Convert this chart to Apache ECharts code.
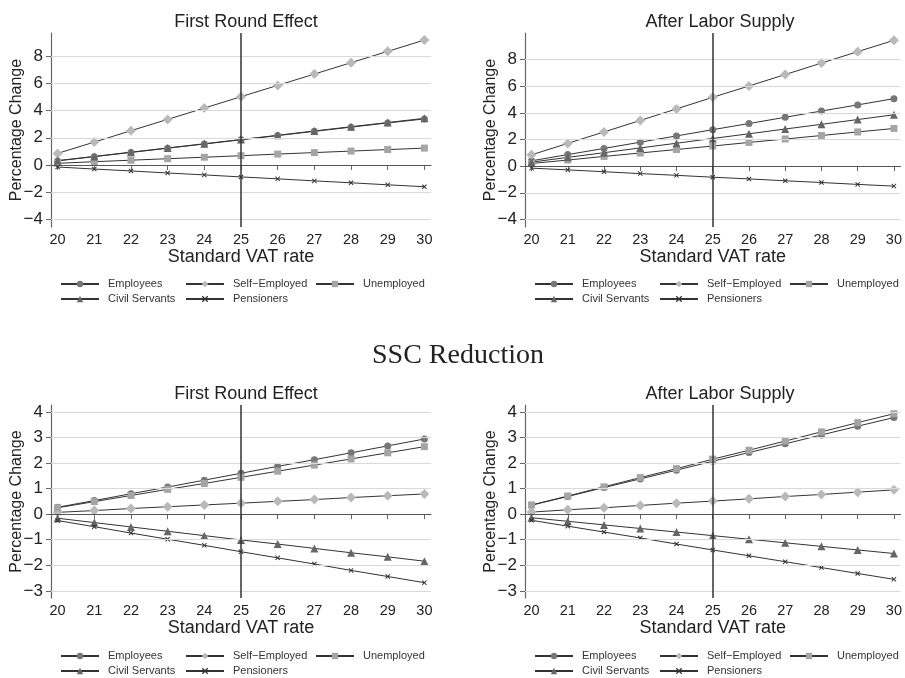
<!DOCTYPE html>
<html>
<head>
<meta charset="utf-8">
<script src="https://cdn.jsdelivr.net/npm/echarts@6/dist/echarts.min.js"></script>
<style>
  html, body { margin: 0; padding: 0; background: #fff; }
  #main { width: 905px; height: 678px; }
</style>
</head>
<body>
<div id="main"></div>
<script>
  // VAT rates on the x axis
  const vatRates = [20, 21, 22, 23, 24, 25, 26, 27, 28, 29, 30];
  const xTicks = [20, 21, 22, 23, 24, 25, 26, 27, 28, 29, 30];
  const yTicksTop = [-4, -2, 0, 2, 4, 6, 8];
  const yTicksBottom = [-3, -2, -1, 0, 1, 2, 3, 4];

  // top left: First Round Effect
  const topFirstEmployees = [0.30, 0.61, 0.92, 1.23, 1.54, 1.85, 2.16, 2.47, 2.78, 3.09, 3.38];
  const topFirstSelf = [0.85, 1.68, 2.52, 3.35, 4.18, 5.02, 5.85, 6.68, 7.52, 8.35, 9.18];
  const topFirstUnemployed = [0.12, 0.24, 0.35, 0.46, 0.57, 0.68, 0.80, 0.91, 1.02, 1.13, 1.24];
  const topFirstCivil = [0.32, 0.63, 0.94, 1.25, 1.56, 1.87, 2.18, 2.50, 2.81, 3.12, 3.43];
  const topFirstPensioners = [-0.15, -0.30, -0.44, -0.59, -0.73, -0.88, -1.02, -1.17, -1.31, -1.46, -1.60];

  // top right: After Labor Supply
  const topLaborEmployees = [0.40, 0.87, 1.33, 1.80, 2.27, 2.74, 3.20, 3.67, 4.14, 4.60, 5.07];
  const topLaborSelf = [0.85, 1.71, 2.57, 3.43, 4.30, 5.17, 6.02, 6.88, 7.74, 8.60, 9.45];
  const topLaborUnemployed = [0.20, 0.46, 0.73, 0.99, 1.25, 1.51, 1.78, 2.04, 2.30, 2.57, 2.83];
  const topLaborCivil = [0.30, 0.66, 1.01, 1.37, 1.72, 2.08, 2.43, 2.79, 3.14, 3.50, 3.86];
  const topLaborPensioners = [-0.15, -0.28, -0.42, -0.56, -0.69, -0.83, -0.96, -1.10, -1.23, -1.37, -1.50];

  // bottom left: SSC Reduction, First Round Effect
  const sscFirstEmployees = [0.27, 0.53, 0.80, 1.06, 1.33, 1.60, 1.87, 2.13, 2.40, 2.67, 2.94];
  const sscFirstSelf = [0.07, 0.14, 0.22, 0.29, 0.36, 0.43, 0.50, 0.57, 0.65, 0.72, 0.79];
  const sscFirstUnemployed = [0.25, 0.49, 0.73, 0.97, 1.20, 1.44, 1.68, 1.92, 2.16, 2.40, 2.64];
  const sscFirstCivil = [-0.16, -0.33, -0.50, -0.67, -0.84, -1.01, -1.17, -1.34, -1.51, -1.67, -1.84];
  const sscFirstPensioners = [-0.25, -0.49, -0.74, -0.98, -1.22, -1.47, -1.71, -1.95, -2.20, -2.44, -2.68];

  // bottom right: SSC Reduction, After Labor Supply
  const sscLaborEmployees = [0.35, 0.69, 1.04, 1.38, 1.72, 2.07, 2.41, 2.75, 3.10, 3.44, 3.78];
  const sscLaborSelf = [0.08, 0.17, 0.25, 0.34, 0.43, 0.51, 0.60, 0.69, 0.77, 0.86, 0.95];
  const sscLaborUnemployed = [0.36, 0.71, 1.07, 1.43, 1.78, 2.15, 2.50, 2.86, 3.22, 3.58, 3.93];
  const sscLaborCivil = [-0.14, -0.28, -0.42, -0.56, -0.70, -0.84, -0.98, -1.12, -1.26, -1.40, -1.54];
  const sscLaborPensioners = [-0.24, -0.47, -0.70, -0.93, -1.17, -1.40, -1.63, -1.86, -2.09, -2.32, -2.55];

  const FONT = '"Liberation Sans", Arial, sans-serif';
  // thin "x" marker
  const crossPath = 'path://M0,1.4L1.4,0L5,3.6L8.6,0L10,1.4L6.4,5L10,8.6L8.6,10L5,6.4L1.4,10L0,8.6L3.6,5Z';

  const groups = [
    { name: 'Employees', symbol: 'circle', size: 7, color: '#777777' },
    { name: 'Self\u2212Employed', symbol: 'diamond', size: 10, color: '#b9b9b9' },
    { name: 'Unemployed', symbol: 'rect', size: 7, color: '#a5a5a5' },
    { name: 'Civil Servants', symbol: 'triangle', size: 8, color: '#666666' },
    { name: 'Pensioners', symbol: crossPath, size: 5, color: '#333333' }
  ];

  const panels = [
    { title: 'First Round Effect', left: 51, top: 33, height: 194, yMin: -4.56, yMax: 9.7, yTicks: yTicksTop,
      data: [topFirstEmployees, topFirstSelf, topFirstUnemployed, topFirstCivil, topFirstPensioners] },
    { title: 'After Labor Supply', left: 525, top: 33, height: 194, yMin: -4.57, yMax: 10.0, yTicks: yTicksTop,
      data: [topLaborEmployees, topLaborSelf, topLaborUnemployed, topLaborCivil, topLaborPensioners] },
    { title: 'First Round Effect', left: 51, top: 405, height: 193, yMin: -3.28, yMax: 4.27, yTicks: yTicksBottom,
      data: [sscFirstEmployees, sscFirstSelf, sscFirstUnemployed, sscFirstCivil, sscFirstPensioners] },
    { title: 'After Labor Supply', left: 525, top: 405, height: 193, yMin: -3.28, yMax: 4.27, yTicks: yTicksBottom,
      data: [sscLaborEmployees, sscLaborSelf, sscLaborUnemployed, sscLaborCivil, sscLaborPensioners] }
  ];

  const WIDTH = 380;
  const grid = [], xAxis = [], yAxis = [], series = [], title = [], legend = [];

  panels.forEach((p, i) => {
    grid.push({ left: p.left, top: p.top, width: WIDTH, height: p.height });
    title.push({
      text: p.title, left: p.left + WIDTH / 2, top: p.top - 25, textAlign: 'center',
      textStyle: { fontFamily: FONT, fontSize: 18, fontWeight: 'normal', color: '#222' }
    });
    xAxis.push({
      type: 'value', gridIndex: i, min: 19.82, max: 30.18,
      name: 'Standard VAT rate', nameLocation: 'middle', nameGap: 21, nameMoveOverlap: false,
      nameTextStyle: { fontFamily: FONT, fontSize: 18, color: '#222', verticalAlign: 'top' },
      axisLine: { show: true, lineStyle: { color: '#666', width: 1.2 } },
      axisTick: { show: true, length: 5, customValues: xTicks, lineStyle: { color: '#666' } },
      axisLabel: { customValues: xTicks, margin: 5, fontFamily: FONT, fontSize: 14.5, color: '#222' },
      splitLine: { show: false }
    });
    yAxis.push({
      type: 'value', gridIndex: i, min: p.yMin, max: p.yMax,
      name: 'Percentage Change', nameLocation: 'middle', nameGap: 26, nameMoveOverlap: false,
      nameTextStyle: { fontFamily: FONT, fontSize: 16, color: '#222' },
      axisLine: { show: true, lineStyle: { color: '#666', width: 1.2 } },
      axisTick: { show: true, length: 5, customValues: p.yTicks, lineStyle: { color: '#666' } },
      axisLabel: {
        customValues: p.yTicks, margin: 8, fontFamily: FONT, fontSize: 17, color: '#222',
        formatter: v => (v < 0 ? '\u2212' + Math.abs(v) : String(v))
      },
      splitLine: { show: false }
    });

    // reference lines: horizontal grid, zero line, vertical line at 25
    const refLines = p.yTicks.filter(v => v !== 0).map(v => ({
      yAxis: v, lineStyle: { color: '#d9d9d9', width: 1, type: 'solid' }
    }));
    refLines.push({ yAxis: 0, lineStyle: { color: '#555', width: 1.2, type: 'solid' } });
    refLines.push({ xAxis: 25, lineStyle: { color: '#333', width: 1.5, type: 'solid' } });
    series.push({
      type: 'line', xAxisIndex: i, yAxisIndex: i, data: [[25, 0]], symbol: 'none',
      lineStyle: { opacity: 0 }, silent: true, z: 1, animation: false,
      markLine: { silent: true, symbol: ['none', 'none'], label: { show: false }, animation: false, data: refLines }
    });

    groups.forEach((g, k) => {
      series.push({
        name: g.name, type: 'line', xAxisIndex: i, yAxisIndex: i, z: 3, animation: false,
        data: vatRates.map((x, j) => [x, p.data[k][j]]),
        symbol: g.symbol, symbolSize: g.size, showAllSymbol: true,
        itemStyle: { color: g.color, borderWidth: 0 },
        lineStyle: { color: '#333', width: 1 }
      });
    });

    // legend in three columns
    const legendTop = p.top + 245;
    const cols = [
      { left: p.left + 9, data: [groups[0].name, groups[3].name] },
      { left: p.left + 134, data: [groups[1].name, groups[4].name] },
      { left: p.left + 264, data: [groups[2].name] }
    ];
    cols.forEach(c => {
      legend.push({
        orient: 'vertical', left: c.left, top: legendTop, padding: 0, itemGap: 3,
        itemWidth: 38, itemHeight: 8, data: c.data, selectedMode: false,
        textStyle: { fontFamily: FONT, fontSize: 11, color: '#333', lineHeight: 12, padding: [0, 0, 0, 4] }
      });
    });
  });

  title.push({
    text: 'SSC Reduction', left: 453, top: 337, textAlign: 'center',
    textStyle: { fontFamily: '"Liberation Serif", "DejaVu Serif", serif', fontSize: 28, fontWeight: 'normal', color: '#222' }
  });

  const chart = echarts.init(document.getElementById('main'));
  chart.setOption({
    backgroundColor: '#fff',
    animation: false,
    title: title,
    legend: legend,
    grid: grid,
    xAxis: xAxis,
    yAxis: yAxis,
    series: series
  });
</script>
</body>
</html>
